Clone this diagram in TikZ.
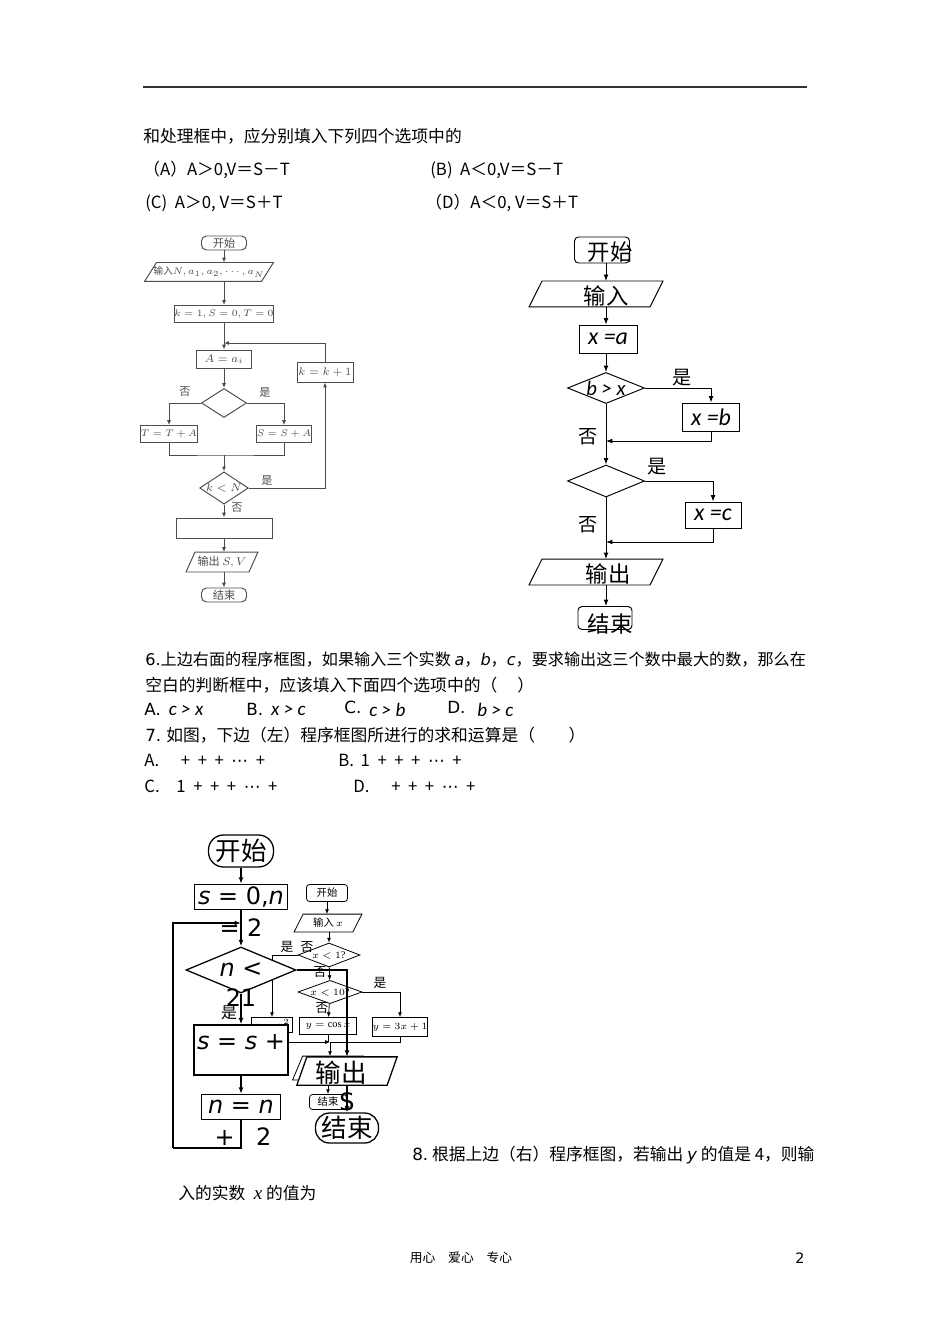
\documentclass[tikz,border=0pt]{standalone}
\usepackage{fontspec}
\setmainfont{Liberation Serif}
\newfontfamily\cjk{Noto Sans CJK SC}
\newfontfamily\djv{DejaVu Sans}
\newfontfamily\carl{Carlito}
\newfontfamily\lsr{Liberation Serif}
\usetikzlibrary{shapes.geometric,arrows.meta}
\newdimen\upx \upx=0.6265pt
\newcommand\fs[1]{\fontsize{#1}{#1}\selectfont}
\newcommand\para[3][]{\draw[#1] ([xshift=#3\upx]#2.north west) -- (#2.north east) -- ([xshift=-#3\upx]#2.south east) -- (#2.south west) -- cycle;}
\newcommand\plusrow{+\hspace{.45em}+\hspace{.45em}+\hspace{.45em}{\djv ⋯}\hspace{.45em}+}
\tikzset{
  box/.style n args={2}{draw,inner sep=0pt,minimum width=#1\upx,minimum height=#2\upx},
  pbox/.style n args={2}{inner sep=0pt,minimum width=#1\upx,minimum height=#2\upx},
  dia/.style n args={2}{diamond,draw,aspect=2.5,inner sep=0pt,minimum width=#1\upx,minimum height=#2\upx},
  txt/.style={anchor=west,inner sep=0pt,font=\cjk\fs{10.5}},
  lab/.style={inner sep=0pt,font=\cjk\fs{#1}}
}

\begin{document}
\begin{tikzpicture}[x=0.6265pt,y=-0.6265pt,>={Latex[length=4pt,width=3pt]}]
\useasboundingbox (0,0) rectangle (950,1344);

\draw[line width=1.2pt,black!80] (143,87) -- (807,87);
\node[txt] (q5a) at (143,136) {和处理框中，应分别填入下列四个选项中的};
\node[txt] (q5A) at (143,170) {（A）A＞0,V＝S－T};
\node[txt] (q5B) at (430,170) {(B)\ \ A＜0,V＝S－T};
\node[txt] (q5C) at (145,203) {(C)\ \ A＞0,\ V＝S＋T};
\node[txt] (q5D) at (425,203) {（D）A＜0,\ V＝S＋T};

% upper left flowchart (scanned)
\begin{scope}[black!70,line width=0.6pt,>={Latex[length=3pt,width=2.5pt]}]
\node[box={45}{14},rounded corners=5\upx,font=\cjk\fs{7}] (tlstart) at (224,243) {开始};
\node[pbox={128}{18},font=\cjk\fs{6}] (tlin) at (209,272) {输入$N,a_1,a_2,\cdots,a_N$};
\para{tlin}{12}
\node[box={98}{17},font=\fs{6.3}] (tlinit) at (224,314) {$k=1,S=0,T=0$};
\node[box={55}{18},font=\fs{7}] (tlA) at (224,359) {$A=a_i$};
\node[dia={45}{29}] (tld) at (224,403) {};
\node[box={52}{17},font=\fs{6.5}] (tlT) at (169,434) {$T=T+A$};
\node[box={47}{17},font=\fs{6.5}] (tlS) at (284,434) {$S=S+A$};
\node[dia={45}{29},aspect=1.5,font=\fs{7}] (tlk) at (224,488) {$k<N$};
\node[box={56}{20},font=\fs{7}] (tlinc) at (325,372) {$k=k+1$};
\node[box={96}{20}] (tlblank) at (224,528) {};
\node[pbox={71}{19},font=\cjk\fs{7}] (tlout) at (222,562) {输出 $S,V$};
\para{tlout}{9}
\node[box={45}{14},rounded corners=5\upx,font=\cjk\fs{7}] (tlend) at (224,595) {结束};
\coordinate (tlj) at (224,343);
\coordinate (tlm) at (224,455);
\draw[->] (tlstart) -- (tlin.north -| tlstart);
\draw[->] (tlin.south -| tlinit) -- (tlinit);
\draw[->] (tlinit) -- (tlA);
\draw[->] (tlA) -- (tld);
\draw[->] (tld.west) -| (tlT.north);
\draw[->] (tld.east) -| (tlS.north);
\draw (tlT.south) |- (tlm) -| (tlS.south);
\draw[->] (tlm) -- (tlk);
\draw[->] (tlk.east) -| (tlinc.south);
\draw[->] (tlinc.north) |- (tlj);
\draw[->] (tlk) -- (tlblank);
\draw[->] (tlblank) -- (tlout.north -| tlblank);
\draw[->] (tlout.south -| tlend) -- (tlend);
\node[lab=7] (tlno1) at (185,392) {否};
\node[lab=7] (tlyes1) at (265,392) {是};
\node[lab=7] (tlyes2) at (267,480) {是};
\node[lab=7] (tlno2) at (237,508) {否};
\end{scope}

% upper right flowchart
\begin{scope}[line width=0.6pt]
\coordinate (trc) at (606,0);
\node[box={55}{26},rounded corners=4\upx] (trstart) at (602,250) {};
\node[lab=14] (trstartt) at (610,252) {开始};
\node[pbox={133}{25}] (trin) at (596,294) {};
\para{trin}{13}
\node[lab=14] (trint) at (606,296) {输入};
\node[box={58}{28},font=\carl\itshape\fs{15}] (trx) at (608,339) {x =a};
\node[dia={77}{31},font=\carl\itshape\fs{13}] (trd1) at (606,388) {b > x};
\node[box={57}{28},font=\carl\itshape\fs{15}] (trxb) at (711,417) {x =b};
\node[dia={77}{32}] (trd2) at (606,481) {};
\node[box={56}{26},font=\carl\itshape\fs{15}] (trxc) at (713,515) {x =c};
\node[pbox={133}{25}] (trout) at (596,572) {};
\para{trout}{13}
\node[lab=14] (troutt) at (608,574) {输出};
\node[box={54}{23},rounded corners=4\upx] (trend) at (605,618) {};
\node[lab=14] (trendt) at (610,624) {结束};
\coordinate (trj1) at (606,441);
\coordinate (trj2) at (606,542);
\draw[->] (trstart.south -| trc) -- (trin.north -| trc);
\draw[->] (trin.south -| trc) -- (trx.north -| trc);
\draw[->] (trx.south -| trc) -- (trd1.north);
\draw[->] (trd1.east) -| (trxb.north);
\draw[->] (trxb.south) |- (trj1);
\draw[->] (trd1.south) -- (trd2.north);
\draw[->] (trd2.east) -| (trxc.north);
\draw[->] (trxc.south) |- (trj2);
\draw[->] (trd2.south) -- (trout.north -| trc);
\draw[->] (trout.south -| trc) -- (trend.north -| trc);
\node[lab=12] (tryes1) at (682,378) {是};
\node[lab=12] (trno1) at (588,437) {否};
\node[lab=12] (tryes2) at (657,467) {是};
\node[lab=12] (trno2) at (588,525) {否};
\end{scope}

\node[txt,font=\cjk\fs{10.1}] (q6a) at (145,660) {{\djv 6.}上边右面的程序框图，如果输入三个实数 {\djv\itshape a}，{\djv\itshape b}，{\djv\itshape c}，要求输出这三个数中最大的数，那么在};
\node[txt] (q6b) at (145,685) {空白的判断框中，应该填入下面四个选项中的（\hspace{1.2em}）};
\node[txt] (q6A) at (144,709) {{\djv A.} {\carl\itshape\fs{12} c > x}};
\node[txt] (q6B) at (246,709) {{\djv B.} {\carl\itshape\fs{12} x > c}};
\node[txt] (q6C) at (344,709) {{\djv C.} \raisebox{-2pt}{\carl\itshape\fs{12} c > b}};
\node[txt] (q6D) at (447,709) {{\djv D.}\ \ \raisebox{-2pt}{\carl\itshape\fs{12} b > c}};
\node[txt] (q7) at (145,735) {{\djv 7.} 如图，下边（左）程序框图所进行的求和运算是（\hspace{2em}）};
\node[txt] (q7A) at (144,760) {A.\hspace{1.3em}\plusrow};
\node[txt] (q7B) at (338,760) {B.\hspace{.4em}1\hspace{.45em}\plusrow};
\node[txt] (q7C) at (144,786) {C.\hspace{1em}1\hspace{.45em}\plusrow};
\node[txt] (q7D) at (353,786) {D.\hspace{1.3em}\plusrow};

% lower right small flowchart (under the big one)
\begin{scope}[line width=0.5pt,>={Latex[length=3pt,width=2.5pt]}]
\node[box={41}{17},rounded corners=3\upx,font=\cjk\fs{6.5}] (scstart) at (327,893) {开始};
\node[pbox={67}{17},font=\cjk\fs{6.5}] (scin) at (328,923) {输入 $x$};
\para{scin}{9}
\node[dia={62}{24},font=\fs{6.5}] (scd1) at (329,955) {$x<1$?};
\node[box={41}{15},font=\fs{6.5}] (scsq) at (272,1025) {$y=x^2$};
\node[dia={64}{20},font=\fs{6.5}] (scd2) at (330,992) {$x<10$?};
\node[box={57}{17},font=\fs{6.5}] (sccos) at (328,1026) {$y=\cos x$};
\node[box={55}{19},font=\fs{6.5}] (sclin) at (400,1027) {$y=3x+1$};
\node[pbox={70}{23},font=\cjk\fs{6.5}] (scout) at (328,1068) {输出 $y$};
\para{scout}{10}
\node[box={37}{15},rounded corners=3\upx,font=\cjk\fs{6.5}] (scend) at (328,1102) {结束};
\coordinate (scm) at (330,1042);
\draw[->] (scstart) -- (scin.north -| scstart);
\draw[->] (scin.south -| scd1) -- (scd1);
\draw[->] (scd1.west) -| (scsq.north);
\draw[->] (scd1) -- (scd2);
\draw[->] (scd2.east) -| (sclin.north);
\draw[->] (scd2) -- (sccos);
\draw[->] (scsq.south) |- (scm);
\draw (sclin.south) |- (scm);
\draw (sccos.south) -- (sccos.south |- scm);
\draw[->] (scm) -- (scout.north -| scm);
\draw[->] (scout.south -| scend) -- (scend);
\node[lab=8] (scyes1) at (287,947) {是};
\node[lab=8] (scno1) at (307,947) {否};
\node[lab=8] (scno2) at (320,972) {否};
\node[lab=8] (scyes2) at (380,983) {是};
\node[lab=8] (scno3) at (322,1008) {否};
\end{scope}

% lower left big flowchart
\begin{scope}[line width=0.8pt]
\node[box={65}{32},rounded corners=15\upx,fill=white,font=\cjk\fs{16}] (blstart) at (241,851) {开始};
\node[box={93}{25},fill=white,font=\djv\fs{15}] (blinit) at (241,897) {\textit{s} = 0,\textit{n}};
\node[font=\djv\fs{15},inner sep=0pt] (blinit2) at (241,928) {= 2};
\node[dia={110}{46},fill=white,font=\djv\fs{15}] (bld) at (241,970) {\textit{n} <};
\node[font=\djv\fs{15},inner sep=0pt] (bld2) at (241,998) {21};
\node[lab=10] (blyes) at (229,1013) {是};
\node[box={94}{50},fill=white] (blsum) at (241,1050) {};
\node[font=\djv\fs{15},inner sep=0pt] (blsumt) at (241,1042) {\textit{s} = \textit{s} +};
\node[box={79}{25},fill=white,font=\djv\fs{15}] (blinc) at (241,1107) {\textit{n} = \textit{n}};
\node[font=\djv\fs{15},inner sep=0pt] (blinc2) at (243,1137) {+\hspace{0.9em}2};
\node[pbox={99}{27}] (blout) at (347,1071) {};
\para[fill=white]{blout}{10}
\node[lab=16] (bloutt) at (341,1073) {输出};
\node[font=\djv\fs{15},inner sep=0pt] (blS) at (347,1102) {S};
\node[box={63}{30},rounded corners=14\upx,fill=white,font=\cjk\fs{16}] (blend) at (347,1128) {结束};
\coordinate (blj) at (241,923);
\coordinate (bll) at (173,1148);
\draw[->] (blstart) -- (blinit);
\draw[->] (blinit) -- (bld);
\draw[->] (bld) -- (blsum);
\draw[->] (blsum) -- (blinc);
\draw (blinc.south) |- (bll);
\draw[->] (bll) |- (blj);
\draw[->] (bld.east) -| (blout.north);
\draw[->] (blout) -- (blend);
\end{scope}

\node[txt] (q8a) at (412,1155) {{\djv 8.}\ 根据上边（右）程序框图，若输出 {\djv\itshape y} 的值是 4，则输};
\node[txt] (q8b) at (178,1193) {入的实数 {\lsr\itshape\fs{12} x} 的值为};
\node[lab=8] (foot) at (461,1258) {用心\quad 爱心\quad 专心};
\node[font=\djv\fs{9}] (pageno) at (800,1258) {2};
\end{tikzpicture}
\end{document}
